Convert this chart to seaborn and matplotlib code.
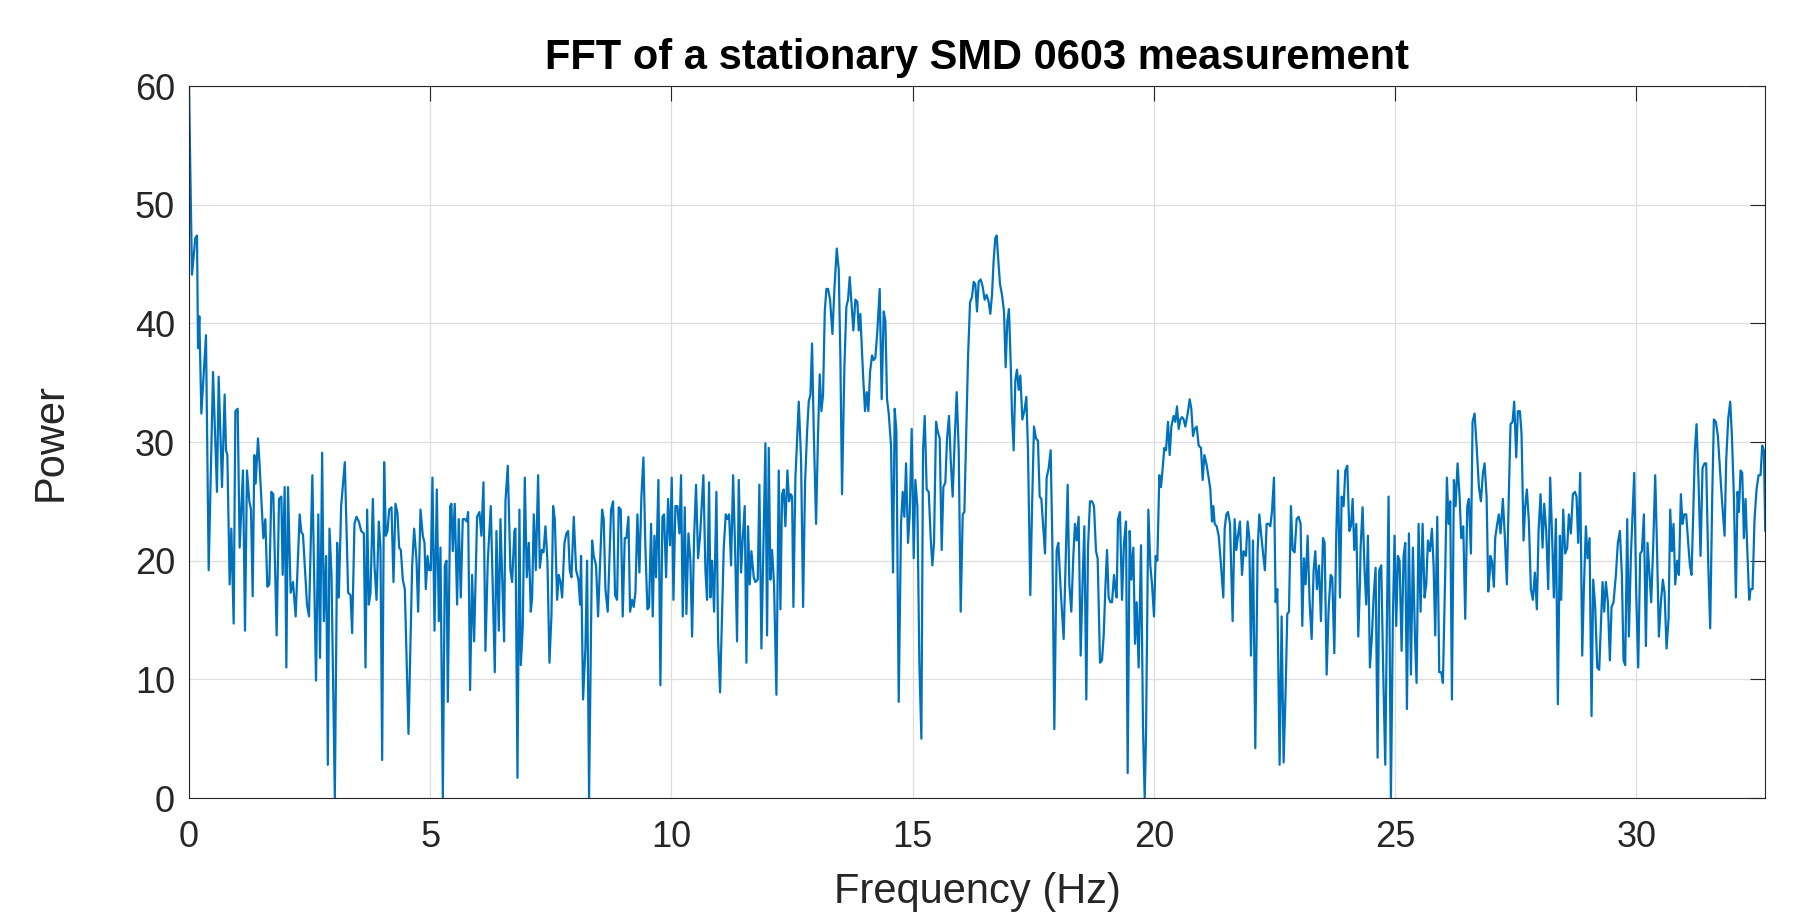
import numpy as np
import pandas as pd
import matplotlib
matplotlib.use("Agg")
import matplotlib.pyplot as plt
import seaborn as sns

# ---- data (Frequency in Hz, Power) ----
freq_a = [0.0, 0.062, 0.131, 0.166, 0.187, 0.214, 0.256, 0.352, 0.408, 0.498, 0.580, 0.615, 0.684, 0.739,
          0.767, 0.795, 0.843, 0.878, 0.926, 0.961, 1.009, 1.050, 1.119, 1.161, 1.202, 1.251, 1.285, 1.320,
          1.354, 1.382, 1.430, 1.458, 1.541, 1.582, 1.624, 1.665, 1.707, 1.748, 1.817, 1.866, 1.914, 1.942,
          1.983, 2.018, 2.052, 2.107, 2.156, 2.211, 2.294, 2.329, 2.363, 2.446, 2.488, 2.557, 2.633, 2.681,
          2.716,
          2.760, 2.795, 2.843, 2.878, 2.912, 2.954, 3.023, 3.071, 3.106, 3.154, 3.230, 3.299, 3.348, 3.382,
          3.430, 3.472, 3.520, 3.569, 3.624, 3.659, 3.693, 3.728, 3.762, 3.811, 3.845, 3.887, 3.935, 3.969,
          4.004, 4.045, 4.080, 4.115, 4.149, 4.198, 4.239, 4.280, 4.322, 4.356, 4.391, 4.432, 4.474, 4.550,
          4.626, 4.667, 4.716, 4.750, 4.799, 4.847, 4.882, 4.909, 4.944, 4.978, 5.013, 5.047, 5.089, 5.137,
          5.179, 5.213, 5.262, 5.303, 5.338, 5.365, 5.414,
          5.440, 5.468, 5.509, 5.558, 5.592, 5.634, 5.675, 5.717, 5.758, 5.786, 5.827, 5.869, 5.910, 5.972,
          6.021, 6.062, 6.104, 6.145, 6.194, 6.256, 6.339, 6.373, 6.422, 6.456, 6.532, 6.560, 6.608, 6.663,
          6.698, 6.746, 6.767, 6.809, 6.850, 6.878, 6.919, 6.961, 7.002, 7.044, 7.085, 7.113, 7.147, 7.189,
          7.237, 7.272, 7.313, 7.348, 7.389, 7.430, 7.472, 7.513, 7.548, 7.583, 7.631, 7.665, 7.700, 7.735,
          7.783, 7.824, 7.859, 7.893, 7.928, 7.976, 8.025, 8.073, 8.107]
power_a = [60.0, 44.1, 47.2, 47.4, 37.9, 40.6, 32.4, 39.0, 19.2, 35.9, 25.8, 35.5, 26.2, 34.0,
           29.3, 28.9, 18.0, 22.7, 14.7, 32.6, 32.8, 21.1, 27.6, 14.1, 27.6, 25.0, 24.3, 17.0,
           28.9, 26.5, 30.3, 28.5, 21.9, 23.5, 17.8, 18.0, 25.8, 25.6, 13.7, 25.2, 25.4, 18.8,
           26.2, 11.0, 26.2, 17.3, 18.2, 15.3, 23.9, 22.4, 22.2, 16.3, 15.3, 27.2, 9.9, 23.9,
           11.8,
           29.1, 14.9, 20.4, 2.8, 22.7, 18.8, 0.0, 21.5, 16.9, 24.6, 28.3, 17.3, 17.1, 13.9,
           23.1, 23.7, 23.3, 22.5, 22.3, 11.0, 24.3, 16.3, 17.3, 25.2, 19.6, 16.7, 23.3, 21.1,
           3.2, 28.3, 22.1, 22.5, 24.3, 24.5, 18.2, 24.8, 24.0, 21.1, 20.9, 18.4, 17.6, 5.4,
           19.6, 22.7, 20.0, 15.7, 24.3, 22.1, 21.5, 17.6, 20.4, 19.2, 19.2, 27.0, 14.1, 26.0,
           14.9, 21.1, 0.0, 19.6, 20.0, 8.1, 24.6,
           24.8, 20.8, 24.8, 16.3, 23.5, 16.9, 23.5, 23.5, 23.3, 24.1, 9.1, 18.8, 13.2, 23.7,
           24.1, 22.1, 26.6, 12.4, 20.0, 24.6, 10.6, 22.5, 14.1, 23.5, 13.2, 25.0, 28.0, 19.2,
           18.2, 22.5, 22.7, 1.7, 24.3, 11.2, 14.5, 27.0, 18.6, 21.5, 15.7, 16.9, 23.9, 19.2,
           27.2, 19.4, 20.9, 20.7, 22.9, 20.0, 11.4, 15.3, 24.6, 23.5, 16.7, 18.8, 18.2, 16.9,
           21.5, 22.3, 22.5, 19.2, 18.6, 23.7, 19.2, 18.4, 16.3]

freq_b = [8.127, 8.169, 8.217, 8.252, 8.293, 8.356, 8.390, 8.438, 8.480, 8.563, 8.597, 8.632, 8.680, 8.749,
          8.791, 8.832, 8.874, 8.908, 8.950, 8.991, 9.033, 9.067, 9.109, 9.143, 9.185, 9.219, 9.254, 9.295,
          9.337, 9.378, 9.420, 9.461, 9.503, 9.537, 9.579, 9.613, 9.648, 9.682, 9.731, 9.772, 9.814, 9.848,
          9.890, 9.931, 9.972, 10.007, 10.042, 10.083, 10.124, 10.166, 10.200, 10.235, 10.277, 10.311,
          10.353, 10.394, 10.429, 10.470, 10.511, 10.553, 10.594, 10.636, 10.663, 10.705, 10.739, 10.781,
          10.809, 10.843, 10.885, 10.933, 10.968, 11.009, 11.051, 11.085, 11.127, 11.161, 11.196, 11.237,
          11.279, 11.320, 11.361, 11.396, 11.444, 11.479, 11.520, 11.555, 11.589, 11.624, 11.659, 11.707,
          11.742, 11.790, 11.824, 11.866, 11.907, 11.949, 11.983, 12.018, 12.052, 12.087, 12.128, 12.177,
          12.225, 12.260, 12.294, 12.329, 12.363, 12.405, 12.439, 12.474, 12.502, 12.529, 12.571, 12.605,
          12.640, 12.688, 12.730, 12.771, 12.813, 12.847, 12.882, 12.916, 12.951, 12.999, 13.041, 13.075,
          13.110, 13.144, 13.179, 13.213, 13.248, 13.289, 13.338, 13.379, 13.428, 13.469,
          13.503, 13.537, 13.586, 13.627, 13.662, 13.696, 13.731, 13.772, 13.814, 13.855, 13.883, 13.917,
          13.952, 13.979, 14.014, 14.049, 14.083, 14.118, 14.159, 14.194, 14.228, 14.270, 14.318, 14.359,
          14.401, 14.436, 14.470, 14.505, 14.553, 14.594, 14.629, 14.664, 14.712, 14.760, 14.795, 14.829,
          14.864, 14.905, 14.940, 14.981, 15.023, 15.057, 15.099, 15.140, 15.182, 15.216, 15.251, 15.292,
          15.334, 15.375, 15.410, 15.444, 15.486, 15.520, 15.562, 15.603, 15.638, 15.679, 15.714, 15.755,
          15.790, 15.831, 15.873, 15.914, 15.956, 15.997, 16.039, 16.073, 16.115, 16.149, 16.191]
power_b = [20.4, 8.3, 12.6, 20.0, 0.0, 21.7, 20.4, 19.6, 15.3, 24.3, 23.5, 17.6, 15.7, 24.3,
           25.0, 17.1, 16.7, 24.5, 24.3, 15.3, 21.9, 21.9, 23.7, 15.7, 16.7, 16.1, 17.3, 23.9,
           19.0, 25.4, 28.7, 21.1, 15.9, 16.1, 23.1, 15.3, 22.1, 18.6, 26.8, 9.5, 23.7, 23.9,
           18.6, 25.2, 21.3, 27.0, 16.7, 24.6, 24.6, 22.3, 27.2, 15.3, 24.5, 15.5,
           22.3, 20.0, 13.6, 21.9, 26.4, 20.2, 22.1, 25.2, 27.2, 19.2, 16.7, 26.6,
           16.9, 20.0, 15.7, 25.8, 13.4, 8.9, 15.7, 21.1, 23.9, 23.5, 23.9, 19.6,
           27.2, 21.1, 13.2, 26.8, 19.0, 21.9, 24.6, 11.4, 22.9, 18.0, 20.8, 18.6,
           18.2, 18.4, 26.4, 12.6, 21.1, 29.9, 13.7, 29.5, 18.4, 20.9, 18.0, 8.7,
           27.6, 15.9, 25.6, 26.0, 22.9, 27.6, 25.0, 25.6, 25.4, 16.1, 27.0, 30.1,
           33.4, 28.5, 16.1, 26.6, 30.9, 33.4, 34.0, 38.3, 30.9, 23.1, 30.9, 35.7,
           32.6, 34.0, 41.0, 42.9, 42.9, 42.0, 39.1, 42.9, 46.3, 44.5,
           37.1, 25.6, 36.3, 41.4, 42.0, 43.9, 41.8, 39.4, 42.0, 41.8, 39.4, 40.8,
           37.5, 35.2, 32.6, 34.2, 32.6, 35.9, 37.3, 36.9, 37.1, 39.4, 42.9, 33.6,
           41.0, 40.2, 33.6, 32.4, 29.7, 19.0, 32.8, 30.9, 8.1, 23.1, 25.8, 23.7,
           28.2, 21.5, 23.9, 31.1, 20.2, 26.8, 24.6, 11.4, 5.0, 29.3, 32.2, 26.0,
           25.8, 21.9, 19.6, 21.5, 31.7, 30.9, 30.3, 20.9, 26.2, 26.6, 30.3, 32.2,
           28.5, 25.4, 30.3, 34.2, 29.3, 15.7, 23.9, 24.1, 31.3, 37.1, 41.8]

freq_c = [16.231, 16.266, 16.300, 16.335, 16.369, 16.411, 16.452, 16.494, 16.535, 16.577, 16.611, 16.646,
          16.680, 16.715, 16.743, 16.770, 16.812, 16.853, 16.895, 16.929, 16.964, 16.998, 17.033, 17.060,
          17.095, 17.130, 17.164, 17.199, 17.233, 17.275, 17.316, 17.358, 17.392, 17.440, 17.475, 17.516,
          17.558, 17.599, 17.634, 17.669, 17.703, 17.745, 17.779, 17.821, 17.862, 17.897, 17.938, 17.986,
          18.021, 18.069, 18.131, 18.173, 18.214, 18.249, 18.290, 18.332, 18.366, 18.401, 18.442, 18.484,
          18.525, 18.560, 18.601, 18.636, 18.677, 18.719, 18.760, 18.802, 18.836, 18.885,
          18.926, 18.961, 18.995, 19.030, 19.064, 19.099, 19.134, 19.175, 19.203, 19.230, 19.258, 19.299,
          19.341, 19.382, 19.424, 19.458, 19.500, 19.534, 19.576, 19.610, 19.645, 19.686, 19.735, 19.776,
          19.811, 19.838, 19.887, 19.928, 19.963, 20.004, 20.039, 20.073, 20.115, 20.149, 20.184, 20.218,
          20.253, 20.294, 20.329, 20.364, 20.412, 20.446, 20.481, 20.516, 20.550, 20.585, 20.619, 20.654,
          20.702, 20.744, 20.778, 20.813, 20.847, 20.889, 20.930, 20.978, 21.013, 21.048, 21.089, 21.137,
          21.172, 21.207, 21.234, 21.262, 21.303, 21.345, 21.386, 21.441, 21.469, 21.504, 21.538, 21.580,
          21.634, 21.675, 21.710, 21.745, 21.786, 21.828, 21.862, 21.910, 21.945, 21.980, 22.014, 22.056,
          22.104, 22.152, 22.187, 22.228, 22.270, 22.304, 22.339, 22.380, 22.415, 22.449, 22.491, 22.525,
          22.560, 22.608, 22.650, 22.691, 22.733, 22.767, 22.802, 22.843, 22.878, 22.919, 22.961, 23.002,
          23.044, 23.078, 23.113, 23.147, 23.189, 23.230, 23.272, 23.313, 23.348, 23.382, 23.424, 23.465,
          23.507, 23.541, 23.583, 23.624, 23.666, 23.700, 23.742, 23.783, 23.818, 23.859, 23.894, 23.935,
          23.970, 24.011, 24.053, 24.087, 24.122, 24.156, 24.198, 24.239, 24.274]
power_c = [42.2, 43.5, 43.3, 41.0, 43.5, 43.7, 43.1, 42.0, 42.4, 41.8, 40.8, 42.4,
           45.3, 47.2, 47.4, 45.7, 43.3, 42.4, 41.0, 36.3, 40.2, 41.2, 36.7, 32.4,
           29.3, 35.2, 36.1, 34.4, 35.6, 31.9, 32.6, 33.8, 29.3, 17.1, 24.3, 31.3,
           30.3, 30.1, 25.4, 25.2, 23.1, 20.6, 27.0, 27.8, 29.3, 21.5, 5.8, 20.9,
           21.5, 17.6, 13.4, 20.0, 26.4, 18.0, 15.7, 20.4, 23.1, 21.7, 23.7, 12.0,
           18.4, 22.9, 8.3, 21.1, 25.0, 25.0, 24.6, 20.8, 20.2, 11.4,
           11.6, 13.7, 17.6, 20.9, 16.9, 16.5, 16.5, 18.8, 17.6, 16.9, 23.5, 24.1,
           16.7, 21.5, 23.3, 2.1, 22.5, 18.4, 21.1, 13.0, 16.5, 11.0, 21.3, 6.0,
           0.0, 5.2, 24.3, 19.6, 18.0, 15.3, 20.4, 20.0, 27.2, 26.2, 27.8, 29.5,
           29.3, 31.7, 28.9, 31.3, 32.2, 31.7, 33.0, 31.1, 31.9, 32.1, 31.9, 31.3,
           32.4, 33.6, 32.8, 30.5, 31.1, 31.3, 29.7, 29.5, 26.8, 28.9, 28.2, 27.0,
           26.0, 23.3, 24.6, 23.1, 22.9, 22.1, 20.0, 16.9, 22.7, 23.9, 24.1, 23.1,
           14.9, 23.5, 20.9, 22.1, 23.3, 18.8, 20.8, 20.4, 23.3, 21.9, 12.0, 21.7,
           4.2, 20.8, 23.9, 22.1, 20.4, 19.2, 23.1, 23.1, 22.9, 24.1, 27.0, 16.5,
           17.6, 2.8, 15.3, 3.0, 9.1, 15.5, 15.7, 24.6, 20.9, 20.7, 23.5, 23.7,
           23.1, 14.5, 20.2, 18.0, 22.1, 16.5, 13.4, 19.2, 20.8, 17.6, 19.6, 14.9,
           21.9, 21.5, 10.4, 15.9, 18.8, 18.6, 12.2, 22.3, 27.6, 16.9, 25.4, 24.6,
           27.6, 28.0, 22.5, 22.9, 25.2, 20.9, 23.1, 13.6, 18.2]

freq_d = [24.287, 24.328, 24.369, 24.404, 24.439, 24.480, 24.522, 24.556, 24.598, 24.639, 24.674, 24.715,
          24.756, 24.798, 24.832, 24.867, 24.915, 24.957, 24.991, 25.026, 25.060, 25.095, 25.137, 25.178,
          25.213, 25.247, 25.289, 25.330, 25.371, 25.413, 25.447, 25.489, 25.530, 25.572, 25.613, 25.648,
          25.682, 25.724, 25.765, 25.800, 25.834, 25.876, 25.917, 25.959, 25.993, 26.042, 26.076, 26.111,
          26.145, 26.180, 26.221, 26.256, 26.297, 26.339, 26.373, 26.415, 26.456, 26.498, 26.532, 26.574,
          26.608, 26.650, 26.691, 26.740, 26.781, 26.823, 26.857, 26.899, 26.933, 26.968,
          26.974, 27.008, 27.050, 27.077, 27.119, 27.153, 27.188, 27.236, 27.278, 27.319, 27.354, 27.395,
          27.437, 27.471, 27.513, 27.547, 27.589, 27.623, 27.665, 27.699, 27.734, 27.775, 27.817, 27.858,
          27.900, 27.941, 27.976, 28.017, 28.059, 28.093, 28.135, 28.176, 28.217, 28.252, 28.293, 28.335,
          28.376, 28.418, 28.445, 28.487, 28.528, 28.570, 28.604, 28.646, 28.687, 28.729, 28.763, 28.798,
          28.839, 28.881, 28.915, 28.957, 28.991, 29.033, 29.074, 29.109, 29.150, 29.192, 29.233, 29.268,
          29.302, 29.337, 29.371, 29.413, 29.454, 29.489, 29.530, 29.579, 29.620, 29.662,
          29.703, 29.738, 29.772, 29.814, 29.848, 29.890, 29.924, 29.959, 30.000, 30.042, 30.083, 30.118,
          30.159, 30.201, 30.235, 30.270, 30.311, 30.353, 30.394, 30.429, 30.470, 30.512, 30.553, 30.588,
          30.629, 30.671, 30.705, 30.740, 30.774, 30.809, 30.850, 30.885, 30.926, 30.961, 30.995, 31.037,
          31.071, 31.113, 31.147, 31.182, 31.216, 31.251, 31.293, 31.334, 31.375, 31.417, 31.451, 31.493,
          31.534, 31.576, 31.610, 31.652, 31.693, 31.735, 31.776, 31.832, 31.866, 31.908, 31.949, 31.984,
          32.025, 32.066, 32.101, 32.129, 32.163, 32.198, 32.232, 32.267, 32.301, 32.343, 32.370, 32.412,
          32.453, 32.495, 32.536, 32.578, 32.612, 32.647, 32.675]
power_d = [21.1, 24.5, 19.2, 16.3, 22.1, 11.0, 13.7, 16.9, 19.4, 3.4, 19.2, 19.6,
           10.6, 2.8, 14.9, 25.4, 0.0, 15.3, 22.1, 14.5, 20.4, 20.0, 12.4, 20.4,
           21.5, 7.5, 22.3, 10.4, 21.1, 13.7, 9.7, 23.1, 15.7, 23.1, 16.9, 18.0,
           21.7, 20.8, 22.7, 19.6, 13.7, 23.7, 10.6, 10.6, 9.7, 19.2, 27.0, 23.1,
           25.0, 8.3, 26.8, 24.6, 28.2, 25.4, 21.9, 22.9, 15.1, 24.6, 25.2, 20.6,
           31.7, 32.4, 29.7, 26.2, 25.0, 27.4, 28.2, 25.4, 17.4, 19.2,
           20.4, 20.0, 17.8, 21.9, 23.1, 23.9, 22.3, 25.2, 21.9, 18.0, 24.6, 31.5,
           31.7, 33.4, 28.7, 32.6, 32.6, 30.7, 21.7, 24.6, 26.0, 23.3, 17.6, 16.7,
           19.0, 15.9, 22.5, 25.6, 21.1, 24.8, 22.5, 17.6, 27.0, 22.7, 16.9, 23.5,
           7.9, 22.1, 16.7, 24.3, 20.6, 21.1, 23.9, 22.3, 25.6, 25.8, 25.4, 21.5,
           27.4, 12.0, 17.6, 22.9, 20.2, 21.9, 6.9, 18.4, 16.1, 11.0, 10.8, 14.5,
           18.2, 15.7, 18.2, 16.5, 11.6, 16.1, 16.5, 18.8, 21.5, 22.5,
           18.8, 11.6, 11.2, 23.5, 13.6, 20.4, 23.9, 27.4, 17.3, 11.0, 20.6, 20.8,
           23.9, 12.8, 21.5, 19.2, 16.5, 21.3, 27.2, 21.5, 13.6, 16.5, 18.4, 17.3,
           12.6, 15.1, 24.3, 20.8, 23.1, 18.0, 20.0, 18.8, 25.6, 23.1, 23.9, 23.9,
           21.9, 19.6, 18.8, 23.9, 29.3, 31.5, 26.6, 20.4, 27.8, 28.2, 28.2, 19.8,
           14.3, 25.4, 31.9, 31.7, 30.5, 27.8, 25.2, 22.1, 28.5, 32.0, 33.4, 30.5,
           25.4, 16.9, 25.8, 24.1, 27.6, 27.4, 21.9, 25.2, 21.1, 16.7, 17.6, 17.6,
           23.5, 26.0, 27.2, 27.2, 29.7, 29.3, 22.5]

x_ticks = [0, 5, 10, 15, 20, 25, 30]
y_ticks = [0, 10, 20, 30, 40, 50, 60]
title_text = "FFT of a stationary SMD 0603 measurement"
x_label = "Frequency (Hz)"
y_label = "Power"

df = pd.DataFrame({
    "freq": np.concatenate([freq_a, freq_b, freq_c, freq_d]),
    "power": np.concatenate([power_a, power_b, power_c, power_d]),
})

sns.set_theme(style="white")
plt.rcParams['font.family'] = ['Liberation Sans', 'DejaVu Sans']

dark = "#262626"
fig = plt.figure(figsize=(17.96, 9.17), dpi=100)
ax = fig.add_axes([189 / 1796, 1 - 798 / 917, (1765 - 189) / 1796, (798 - 86) / 917])

sns.lineplot(data=df, x="freq", y="power", ax=ax, color="#0072BD", linewidth=1.6,
             sort=False, estimator=None)

ax.set_xlim(0, 32.67)
ax.set_ylim(0, 60)
ax.set_xticks(x_ticks)
ax.set_yticks(y_ticks)
ax.grid(True, color="#dedede", linewidth=0.9)
ax.set_axisbelow(True)
ax.tick_params(axis="both", direction="in", length=11, width=0.8, color=dark,
               labelcolor=dark, labelsize=26, top=True, right=True)
ax.tick_params(axis="x", pad=16)
ax.tick_params(axis="y", pad=10)
for sp in ax.spines.values():
    sp.set_visible(True)
    sp.set_color(dark)
    sp.set_linewidth(0.8)

ax.set_xlabel(x_label, fontsize=30, color=dark, labelpad=12)
ax.set_ylabel(y_label, fontsize=30, color=dark, labelpad=46)
ax.set_title(title_text, fontsize=30, fontweight="bold", color="black", pad=12)

fig.savefig("out.png", dpi=100)
